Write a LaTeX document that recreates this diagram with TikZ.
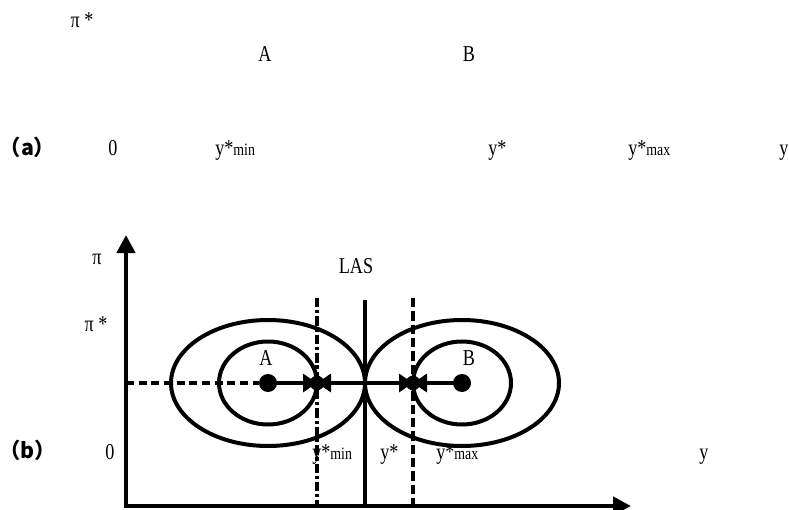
\documentclass[tikz,border=0pt]{standalone}
\usepackage{fontspec}
\setmainfont{Liberation Serif}[FakeStretch=0.8]
\newfontfamily\cjk{Noto Sans CJK SC}
\usetikzlibrary{arrows.meta,positioning}

\begin{document}
\begin{tikzpicture}[
  x=0.75pt, y=-0.75pt,
  font=\fontsize{17}{20}\selectfont,
  lbl/.style ={inner sep=0pt, anchor=base},
  lblw/.style={inner sep=0pt, anchor=base west},
  tag/.style ={inner sep=0pt, anchor=base, font=\cjk\bfseries\fontsize{16}{19}\selectfont},
  bigdot/.style={circle, fill, inner sep=0pt, minimum size=13.5pt},
  dot/.style ={circle, fill, inner sep=0pt, minimum size=11pt},
  axis/.style={-{Triangle[length=13.5pt, width=13.5pt]}, line width=3.3pt},
  curve/.style={line width=3pt},
  flow/.style={-{Triangle[length=10.5pt, width=13.5pt]}, line width=2.5pt},
  wall/.style={line width=2.6pt},
]
\useasboundingbox (0,0) rectangle (789,510);
\newcommand{\sm}[1]{{\fontsize{13}{14}\selectfont #1}}

% ======================= Panel (a) : labels only =======================
\node[lbl]  (pa)    at (82, 28)   {π *};
\node[lbl]  (aA)    at (265, 62)  {A};
\node[lbl]  (aB)    at (469, 62)  {B};
\node[tag]  (ta)    at (27.5, 156) {（a）};
\node[lbl]  (a0)    at (113, 155) {0};
\node[lblw] (aymin) at (215, 155) {y*\sm{min}};
\node[lblw] (aystar) at (488, 155) {y*};
\node[lblw] (aymax) at (628, 155) {y*\sm{max}};
\node[lblw] (ay)    at (779, 155) {y};

% ======================= Panel (b) : two stability regions =======================
\coordinate (O)  at (126, 506);
\coordinate (Yt) at (126, 235);
\coordinate (Xt) at (631, 506);
\draw[axis] (O) -- (Yt);
\draw[axis] ([xshift=-1.6pt]O) -- (Xt);

% contours round A and B
\draw[curve] (268, 383) ellipse [x radius=97, y radius=63];
\draw[curve] (268, 383) ellipse [x radius=49, y radius=41.5];
\draw[curve] (462, 383) ellipse [x radius=97, y radius=63];
\draw[curve] (462, 383) ellipse [x radius=49, y radius=41.5];

% thresholds
\coordinate (minT) at (317, 298);  \coordinate (minB) at (317, 506);
\coordinate (lasT) at (365, 300);  \coordinate (lasB) at (365, 506);
\coordinate (maxT) at (413, 298);  \coordinate (maxB) at (413, 506);
\draw[wall, dash pattern=on 7pt off 2.2pt on 2.4pt off 2.2pt] (minT) -- (minB);
\draw[wall] (lasT) -- (lasB);
\draw[wall, dash pattern=on 7pt off 3pt] (maxT) -- (maxB);

% equilibria and moves
\node[bigdot] (A)    at (268, 383) {};
\node[bigdot] (B)    at (462, 383) {};
\node[dot]    (ymin) at (317, 383) {};
\node[dot]    (ymax) at (413, 383) {};
\coordinate   (las)  at (365, 383);
\draw[wall, dash pattern=on 6pt off 3.5pt] (O |- A) -- (A);
\draw[flow] (A.center) -- (ymin.center);
\draw[flow] (las) -- (ymin.center);
\draw[flow] (las) -- (ymax.center);
\draw[flow] (B.center) -- (ymax.center);

\node[lbl]  (pi)    at (97, 264)  {π};
\node[lbl]  (lasL)  at (356, 273) {LAS};
\node[lbl]  (pb)    at (96, 331)  {π *};
\node[lbl]  (bA)    at (266, 365) {A};
\node[lbl]  (bB)    at (469, 365) {B};
\node[tag]  (tb)    at (27.5, 458) {（b）};
\node[lbl]  (b0)    at (110, 459) {0};
\node[lblw] (bymin) at (312, 459) {y*\sm{min}};
\node[lblw] (bystar) at (380, 459) {y*};
\node[lblw] (bymax) at (436, 459) {y*\sm{max}};
\node[lbl]  (by)    at (704, 459) {y};
\end{tikzpicture}
\end{document}
